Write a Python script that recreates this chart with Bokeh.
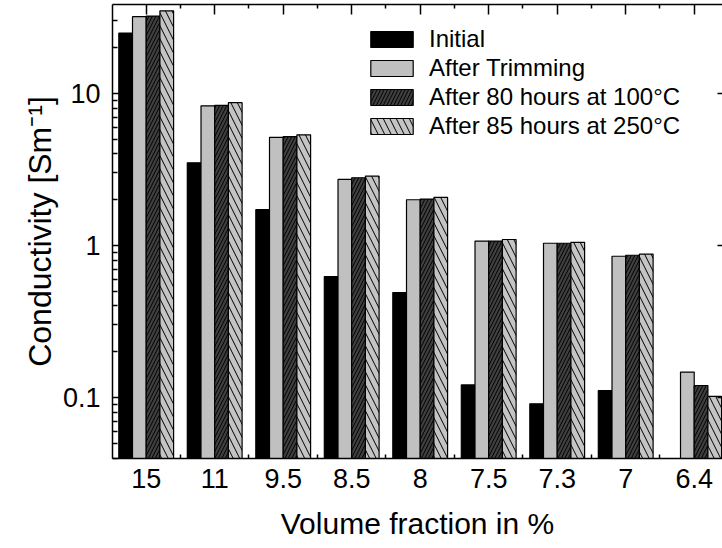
import numpy as np
from bokeh.plotting import figure
from bokeh.models import (FixedTicker, LinearAxis, LogAxis, Legend, LegendItem,
                          CustomJSTickFormatter, Range1d, ColumnDataSource)
from bokeh.embed import file_html
from bokeh.resources import INLINE

# Conductivity [S/m] per volume fraction, for each treatment stage
fractions = ["15", "11", "9.5", "8.5", "8", "7.5", "7.3", "7", "6.4"]
initial = [25.0, 3.5, 1.72, 0.625, 0.49, 0.121, 0.091, 0.111, np.nan]
after_trimming = [32.0, 8.3, 5.15, 2.72, 2.0, 1.07, 1.035, 0.85, 0.147]
after_100c = [32.3, 8.35, 5.2, 2.79, 2.02, 1.07, 1.035, 0.863, 0.12]
after_250c = [35.0, 8.7, 5.35, 2.86, 2.07, 1.095, 1.05, 0.877, 0.1016]
series_names = ["Initial", "After Trimming",
                "After 80 hours at 100°C", "After 85 hours at 250°C"]

FONT = "Liberation Sans"
idx = np.arange(len(fractions))

p = figure(width=722, height=548,
           x_range=Range1d(-0.492, 8.413), y_range=Range1d(0.0397, 38.5),
           y_axis_type="log", output_backend="svg", toolbar_location=None,
           min_border_left=112, min_border_right=0,
           min_border_top=4, min_border_bottom=90)
p.background_fill_color = "white"
p.border_fill_color = "white"
p.outline_line_color = None
p.xgrid.visible = False
p.ygrid.visible = False

# bar styles: fill, hatch
styles = [
    dict(fill_color="black"),
    dict(fill_color="#c0c0c0"),
    dict(fill_color="#404040", hatch_pattern="/", hatch_scale=7,
         hatch_color="black", hatch_weight=1),
    dict(fill_color="#c4c4c4", hatch_pattern="\\", hatch_scale=13,
         hatch_color="black", hatch_weight=1),
]
offsets = [-0.3, -0.1, 0.1, 0.3]
width = 0.2

items = []
for name, vals, off, st in zip(series_names,
                                [initial, after_trimming, after_100c, after_250c],
                                offsets, styles):
    vals = np.array(vals, dtype=float)
    ok = ~np.isnan(vals)
    src = ColumnDataSource(dict(x=(idx + off)[ok], top=vals[ok]))
    r = p.vbar(x="x", top="top", bottom=0.001, width=width, source=src,
               line_color="black", line_width=1.2, **st)
    items.append(LegendItem(label=name, renderers=[r]))

legend = Legend(items=items, location=(253, 318),
                glyph_width=53, glyph_height=20, label_standoff=11,
                spacing=1, padding=0, margin=0,
                border_line_color=None, background_fill_alpha=0,
                label_text_font=FONT, label_text_font_size="24px",
                label_text_color="black")
p.add_layout(legend, "center")

# x axis: labels at group centres, short ticks between groups
x_ticker = FixedTicker(ticks=list(idx),
                       minor_ticks=[i + 0.5 for i in range(-1, len(fractions))])
xa = p.xaxis[0]
xa.ticker = x_ticker
xa.major_label_overrides = {int(i): f for i, f in zip(idx, fractions)}
xa.major_tick_in = 0
xa.major_tick_out = 0
xa.minor_tick_in = 4
xa.minor_tick_out = 0
xa.axis_line_width = 1.5
xa.minor_tick_line_width = 1.5
xa.major_label_standoff = 10
xa.major_label_text_font = FONT
xa.major_label_text_font_size = "27px"
xa.major_label_text_color = "black"
xa.axis_label = "Volume fraction in %"
xa.axis_label_text_font = FONT
xa.axis_label_text_font_size = "30px"
xa.axis_label_text_font_style = "normal"
xa.axis_label_text_color = "black"
xa.axis_label_standoff = 16

# y axis (log)
minor_y = [m * 10.0 ** e for e in (-2, -1, 0, 1) for m in range(2, 10)]
y_ticker = FixedTicker(ticks=[0.1, 1, 10], minor_ticks=minor_y)
ya = p.yaxis[0]
ya.ticker = y_ticker
ya.formatter = CustomJSTickFormatter(code="return tick.toString()")
ya.major_tick_in = 9
ya.major_tick_out = 0
ya.minor_tick_in = 5
ya.minor_tick_out = 0
ya.axis_line_width = 1.5
ya.major_tick_line_width = 1.5
ya.minor_tick_line_width = 1.5
ya.major_label_standoff = 12
ya.major_label_text_font = FONT
ya.major_label_text_font_size = "27px"
ya.major_label_text_color = "black"
ya.axis_label = "Conductivity [Sm\u207b\u00b9]"
ya.axis_label_text_font = FONT
ya.axis_label_text_font_size = "32px"
ya.axis_label_text_font_style = "normal"
ya.axis_label_text_color = "black"
ya.axis_label_standoff = 2

# frame edges carry inward ticks but no labels
blank = CustomJSTickFormatter(code="return ''")
top = LinearAxis(ticker=x_ticker, formatter=blank,
                 major_tick_in=10, major_tick_out=0,
                 minor_tick_in=4, minor_tick_out=0,
                 axis_line_width=1.5, major_tick_line_width=1.5,
                 minor_tick_line_width=1.5,
                 major_label_text_font_size="1px", major_label_standoff=0)
p.add_layout(top, "above")

right = LogAxis(ticker=FixedTicker(ticks=[0.1, 1, 10], minor_ticks=[]),
                formatter=blank,
                major_tick_in=5, major_tick_out=0, minor_tick_in=0,
                minor_tick_out=0, axis_line_color=None,
                major_tick_line_width=1.5,
                major_label_text_font_size="1px", major_label_standoff=0)
p.add_layout(right, "right")

open("out.html", "w").write(file_html(p, INLINE))
